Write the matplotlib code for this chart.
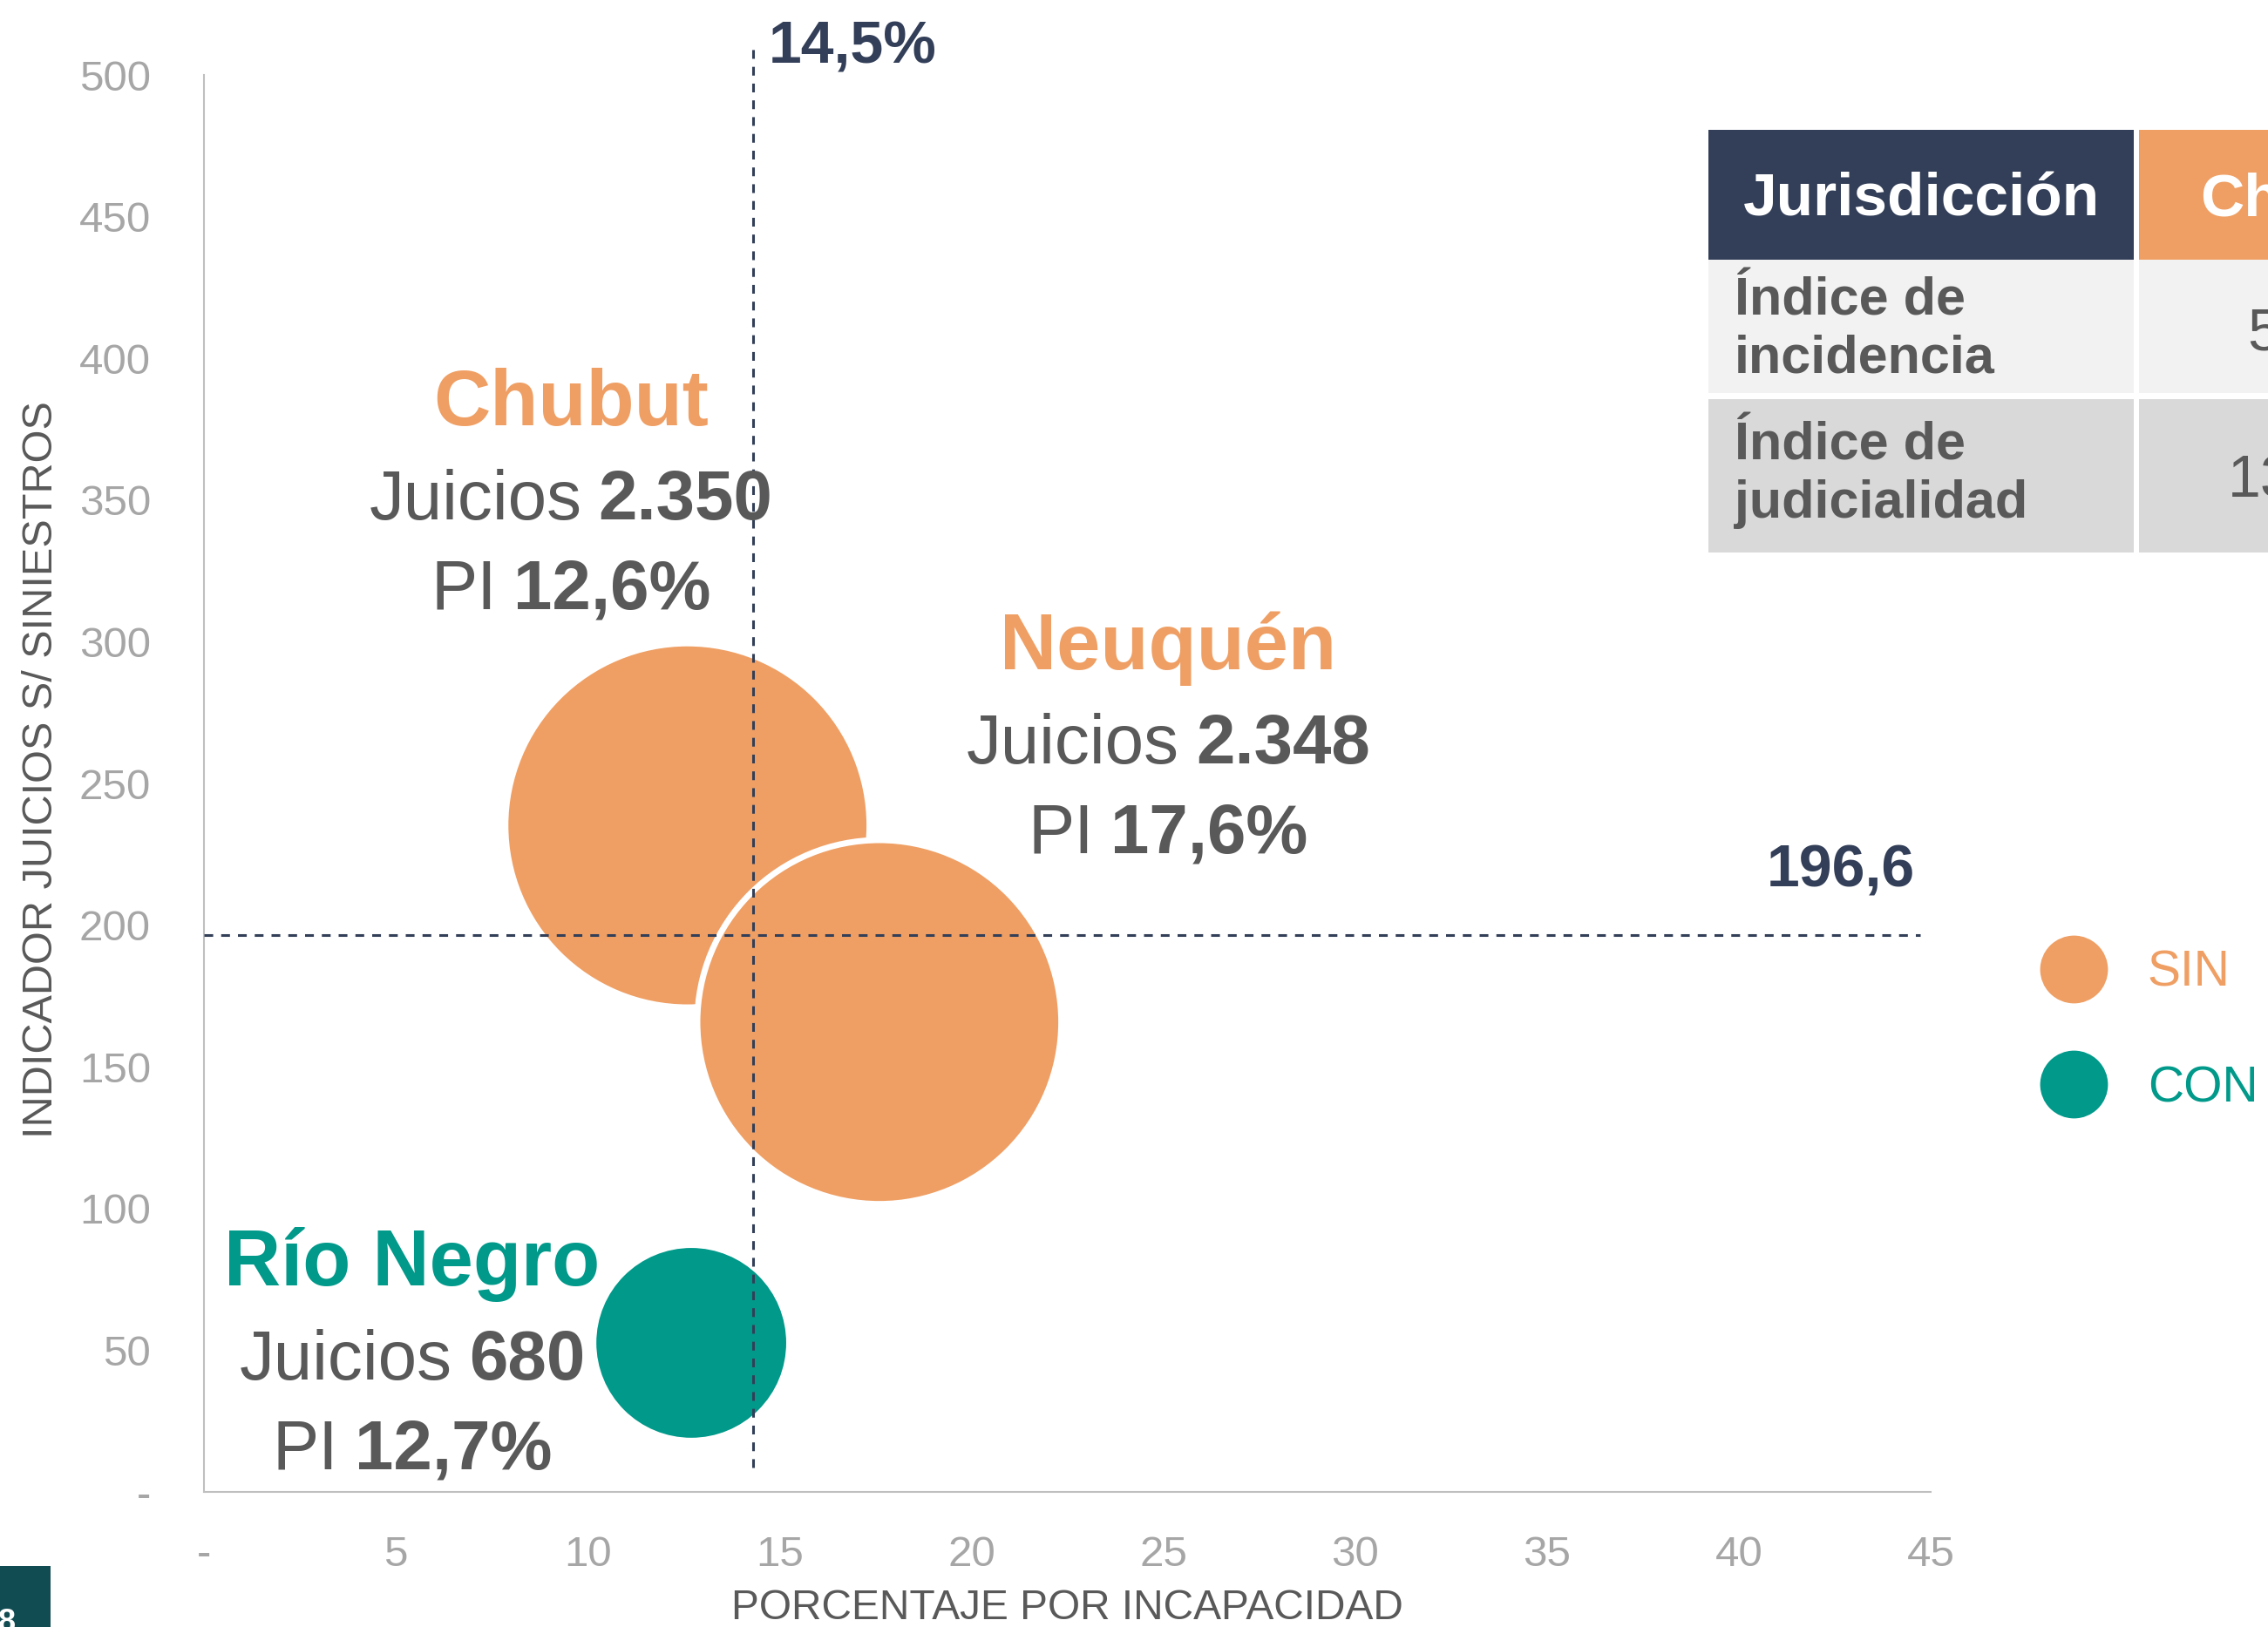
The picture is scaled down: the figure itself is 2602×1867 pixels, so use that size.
import matplotlib
matplotlib.use("Agg")
import matplotlib.pyplot as plt
from matplotlib.lines import Line2D
from matplotlib.patches import Rectangle
from matplotlib.transforms import ScaledTranslation

plt.rcParams['font.family'] = ['Liberation Sans', 'DejaVu Sans']

# ---- data ----
provincias = ['Chubut', 'Neuquén', 'Río Negro']
grupo = ['SIN', 'SIN', 'CON']
pi = [12.6, 17.6, 12.7]                 # porcentaje por incapacidad
indicador = [235.2, 165.8, 52.6]        # juicios s/ siniestros
juicios = [2350, 2348, 680]

pi_ref_label = '14,5%'
pi_ref_x = 14.3
ind_ref = 196.6

x_ticks = [0, 5, 10, 15, 20, 25, 30, 35, 40, 45]
y_ticks = [0, 50, 100, 150, 200, 250, 300, 350, 400, 450, 500]

tabla_header = ['Jurisdicción', 'Chubut']
tabla_filas = ['Índice de\nincidencia', 'Índice de\njudicialidad']
tabla_valores = ['5', '13']

# ---- style ----
NARANJA = '#EF9F64'
TEAL = '#00998A'
NAVY = '#333F58'
GRIS = '#595959'
GRIS_TICK = '#A6A6A6'
colores = {'SIN': NARANJA, 'CON': TEAL}

W, H = 2602, 1867
DPI = 100
fig = plt.figure(figsize=(W / DPI, H / DPI), dpi=DPI)
ax = fig.add_axes([234 / W, 1 - 1712 / H, 1981 / W, 1626 / H])

ax.set_xlim(0, 45)
ax.set_ylim(0, 500)
for s in ['top', 'right']:
    ax.spines[s].set_visible(False)
for s in ['left', 'bottom']:
    ax.spines[s].set_color('#BFBFBF')
    ax.spines[s].set_linewidth(1.5)

fmt = lambda v, p: '-' if v == 0 else f'{v:g}'
ax.set_xticks(x_ticks)
ax.set_yticks(y_ticks)
ax.xaxis.set_major_formatter(plt.FuncFormatter(fmt))
ax.yaxis.set_major_formatter(plt.FuncFormatter(fmt))
ax.tick_params(axis='x', length=0, pad=36, labelsize=35.5, labelcolor=GRIS_TICK)
ax.tick_params(axis='y', length=0, pad=44, labelsize=35.5, labelcolor=GRIS_TICK)

ax.set_xlabel('PORCENTAJE POR INCAPACIDAD', fontsize=34.5, color=GRIS)
ax.xaxis.set_label_coords(0.5, -0.068)
ax.set_ylabel('INDICADOR JUICIOS S/ SINIESTROS', fontsize=35, color=GRIS)
ax.yaxis.set_label_coords(-0.083, 0.51)

# bubbles: area proportional to juicios
k = 38.5
ax.scatter(pi, indicador, s=[j * k for j in juicios],
           c=[colores[g] for g in grupo], edgecolors='white', linewidths=5, zorder=2)

# reference lines
ax.axvline(pi_ref_x, ymin=0.017, ymax=1.022, color=NAVY, lw=2.2,
           ls=(0, (3.3, 3.0)), clip_on=False, zorder=3)
ax.axhline(ind_ref, xmin=0, xmax=0.994, color=NAVY, lw=2.2,
           ls=(0, (3.3, 3.0)), zorder=3)
ax.text(14.72, 504.3, pi_ref_label, fontsize=49, fontweight='bold', color=NAVY,
        ha='left', va='baseline')
ax.text(44.6, 213.7, f'{ind_ref:.1f}'.replace('.', ','), fontsize=49,
        fontweight='bold', color=NAVY, ha='right', va='baseline')

# labels
label_pos = {'Chubut': (9.56, 376.4), 'Neuquén': (25.13, 290.3), 'Río Negro': (5.43, 72.9)}
TITLE_FS = 65
LINE_FS = 57.5
renderer = fig.canvas.get_renderer()


def mixed_line(x, y, reg, bold, dy):
    t1 = ax.text(x, y, reg, ha='left', va='baseline', fontsize=LINE_FS, color=GRIS)
    t2 = ax.text(x, y, bold, ha='left', va='baseline', fontsize=LINE_FS,
                 fontweight='bold', color=GRIS)
    w1 = t1.get_window_extent(renderer).width * 72 / DPI
    w2 = t2.get_window_extent(renderer).width * 72 / DPI
    gap = LINE_FS * 0.24
    start = -(w1 + gap + w2) / 2
    t1.set_transform(ax.transData + ScaledTranslation(start / 72, dy / 72, fig.dpi_scale_trans))
    t2.set_transform(ax.transData + ScaledTranslation((start + w1 + gap) / 72, dy / 72,
                                                      fig.dpi_scale_trans))


for prov, g, p, j in zip(provincias, grupo, pi, juicios):
    x, y = label_pos[prov]
    ax.text(x, y, prov, ha='center', va='baseline', fontsize=TITLE_FS,
            fontweight='bold', color=colores[g])
    mixed_line(x, y, 'Juicios', f'{j:,}'.replace(',', '.'), -108 * 72 / DPI)
    mixed_line(x, y, 'PI', f'{p:.1f}'.replace('.', ',') + '%', -211 * 72 / DPI)

# legend
handles = [Line2D([], [], ls='', marker='o', markersize=56, markerfacecolor=colores[g],
                  markeredgecolor='none') for g in ['SIN', 'CON']]
fig.legend(handles, ['SIN', 'CON'], loc='center left',
           bbox_to_anchor=(2339 / W, 1 - 1183 / H), frameon=False, fontsize=41,
           labelcolor=[NARANJA, TEAL], handlelength=1.4, handletextpad=0.79,
           labelspacing=1.37, borderpad=0, borderaxespad=0)


# table (top right, cut by the page edge)
def px_rect(x0, y0, x1, y1, color):
    fig.patches.append(Rectangle((x0 / W, 1 - y1 / H), (x1 - x0) / W, (y1 - y0) / H,
                                 transform=fig.transFigure, color=color, lw=0, zorder=0))


col_x = [(1960, 2448), (2454, 2700)]
row_y = [(149, 298), (298, 451), (458, 634)]
px_rect(col_x[0][0], row_y[0][0], col_x[0][1], row_y[0][1], NAVY)
px_rect(col_x[1][0], row_y[0][0], col_x[1][1], row_y[0][1], NARANJA)
for (y0, y1), c in zip(row_y[1:], ['#F2F2F2', '#D9D9D9']):
    for x0, x1 in col_x:
        px_rect(x0, y0, x1, y1, c)

fig.text(2204 / W, 1 - 248 / H, tabla_header[0], fontsize=50, fontweight='bold',
         color='white', ha='center', va='baseline')
fig.text(2524 / W, 1 - 248 / H, tabla_header[1], fontsize=50, fontweight='bold',
         color='white', ha='left', va='baseline')
for fila, base in zip(tabla_filas, [362, 528]):
    for i, linea in enumerate(fila.split('\n')):
        fig.text(1990 / W, 1 - (base + 66 * i) / H, linea, fontsize=44,
                 fontweight='bold', color=GRIS, ha='left', va='baseline')
for val, x, base in zip(tabla_valores, [2578, 2556], [402, 570]):
    fig.text(x / W, 1 - base / H, val, fontsize=49, color=GRIS, ha='left', va='baseline')

# page number box
px_rect(0, 1797, 58, 1867, '#124C53')
fig.text(-2 / W, 1 - 1845 / H, '8', fontsize=26, fontweight='bold', color='white',
         ha='left', va='top')

fig.savefig('out.png', dpi=DPI)
